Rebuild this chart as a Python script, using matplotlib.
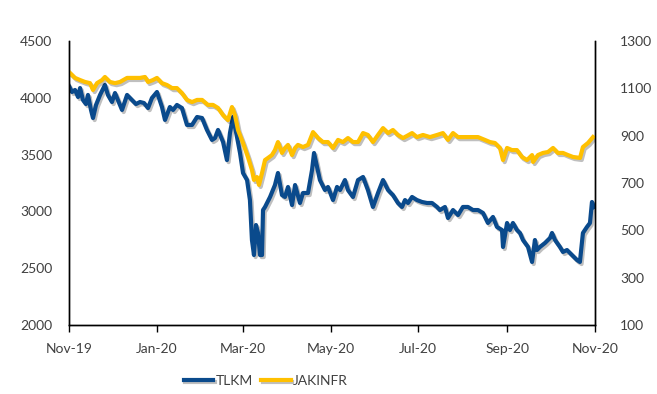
import matplotlib
matplotlib.use("Agg")
import matplotlib.pyplot as plt
import matplotlib.dates as mdates
import matplotlib.patheffects as pe
import numpy as np
import pandas as pd

start_date = "2019-11-01"
end_date = "2020-11-01"

# TLKM (left axis): days after start_date, values
tlkm_days = [0, 2.1, 4.2, 6.3, 7.7, 9.7, 11.8, 13.2, 15.3, 16.7, 18.8, 21.6, 25.0, 27.1, 29.9, 32.0,
             35.5, 36.9, 40.4, 43.8, 46.6, 49.4, 52.2, 55.0, 57.7, 61.2, 64.7, 66.8, 70.2, 72.4, 75.1,
             78.6, 82.1, 85.6, 89.1, 92.6, 96.0, 99.5, 101.6, 103.7, 107.2, 109.9, 112.0, 114.1, 116.9,
             119.0, 121.1, 123.9, 125.9, 127.3, 128.7, 130.1, 131.5, 132.9, 134.3, 135.0, 136.4, 139.9,
             143.3, 145.4, 148.2, 150.3, 152.4, 155.2, 157.3, 160.7, 162.8, 166.3, 169.1, 170.5, 172.6,
             174.6, 178.1, 180.2, 183.7, 186.5, 188.6, 192.0, 194.1, 197.6, 201.1, 204.6, 208.0, 211.5,
             215.0, 218.5, 222.0, 225.4, 228.9, 231.7, 233.8, 235.9, 238.7, 242.1, 245.6, 249.1, 252.6,
             256.1, 258.1, 261.6, 263.7, 267.2, 270.7, 274.1, 277.6, 281.1, 284.6, 288.1, 291.5, 295.0,
             297.8, 301.3, 302.0, 304.8, 306.8, 308.9, 311.7, 313.8, 315.9, 319.4, 322.2, 324.2, 325.6,
             327.7, 331.2, 334.7, 336.1, 338.2, 341.6, 343.7, 346.5, 350.0, 353.5, 355.5, 357.6, 360.4,
             362.5, 363.9, 365.3]
tlkm_values = [4104, 4051, 4069, 4007, 4086, 3981, 3945, 4025, 3893, 3822, 3937, 4025, 4113, 4025, 3963, 4042,
               3937, 3893, 4025, 3981, 3945, 3963, 3954, 3910, 3998, 4051, 3919, 3805, 3919, 3893, 3937,
               3910, 3761, 3761, 3831, 3822, 3717, 3629, 3646, 3717, 3611, 3452, 3690, 3831, 3655,
               3514, 3338, 3276, 3100, 2748, 2616, 2880, 2810, 2616, 2616, 3012, 3039, 3127,
               3232, 3338, 3144, 3127, 3215, 3056, 3232, 3074, 3162, 3162, 3364, 3514, 3391,
               3276, 3188, 3215, 3100, 3215, 3188, 3276, 3188, 3127, 3276, 3303, 3188, 3039,
               3162, 3276, 3188, 3144, 3074, 3039, 3100, 3074, 3127, 3100, 3083, 3074, 3074,
               3039, 3012, 3039, 2942, 3012, 2968, 3039, 3039, 3012, 3012, 2986, 2898, 2951,
               2863, 2836, 2687, 2898, 2836, 2898, 2836, 2810, 2748, 2687, 2555, 2748, 2660,
               2687, 2722, 2766, 2810, 2748, 2687, 2643, 2660, 2616, 2572, 2555, 2810, 2863,
               2898, 3083, 3039]

# JAKINFR (right axis)
jak_days = [0, 4.2, 7.7, 11.1, 14.6, 16.7, 19.5, 23.0, 25.0, 28.5, 32.0, 35.5, 40.4, 44.5, 49.4, 52.9,
            55.0, 58.4, 61.2, 64.7, 68.2, 71.7, 75.1, 78.6, 82.1, 85.6, 89.1, 92.6, 96.7, 100.2, 103.7,
            107.2, 110.6, 113.4, 115.5, 117.6, 121.1, 124.5, 127.3, 128.7, 130.8, 132.2, 134.3, 136.4,
            138.5, 141.2, 143.3, 145.4, 148.2, 150.3, 152.4, 155.2, 157.3, 159.3, 162.8, 166.3, 169.8,
            173.3, 176.7, 180.2, 183.7, 187.2, 190.6, 194.1, 197.6, 201.1, 204.6, 208.0, 211.5, 215.0,
            218.5, 222.0, 225.4, 228.9, 232.4, 235.2, 238.7, 242.1, 246.3, 251.2, 256.1, 260.2, 263.7,
            267.2, 270.7, 275.5, 280.4, 284.6, 289.4, 292.9, 296.4, 299.9, 302.0, 304.8, 308.2, 311.7,
            315.2, 318.7, 322.2, 322.9, 326.3, 329.8, 333.3, 336.8, 340.2, 343.7, 347.2, 350.7, 355.6,
            357.6, 361.1, 364.6]
jak_values = [1169, 1144, 1135, 1127, 1122, 1093, 1122, 1135, 1148, 1127, 1122, 1127, 1144, 1144, 1144, 1148,
              1127, 1135, 1144, 1122, 1114, 1101, 1101, 1080, 1051, 1042, 1051, 1051, 1030, 1030, 1017,
              987, 966, 1021, 987, 924, 869, 810, 755, 713, 725, 692, 742, 797,
              806, 818, 839, 873, 827, 848, 861, 818, 848, 861, 852, 861, 915,
              890, 873, 873, 848, 882, 873, 890, 873, 873, 911, 903, 873, 903,
              932, 911, 924, 903, 890, 899, 911, 894, 903, 894, 903, 911, 882,
              911, 894, 894, 894, 894, 882, 873, 869, 848, 797, 848, 839, 839,
              810, 797, 818, 789, 818, 827, 831, 848, 827, 827, 818, 810, 806,
              852, 869, 894]

left_ticks = [2000, 2500, 3000, 3500, 4000, 4500]
right_ticks = [100, 300, 500, 700, 900, 1100, 1300]
series_names = ["TLKM", "JAKINFR"]

plt.rcParams['font.family'] = ['Lato', 'DejaVu Sans']
text_color = '#404040'

fig = plt.figure(figsize=(6.57, 3.94), dpi=100)
ax = fig.add_axes([69/657, 69/394, (595-69)/657, (325-41)/394])
ax2 = ax.twinx()

t0 = pd.Timestamp(start_date)
tlkm_dates = [t0 + pd.Timedelta(days=d) for d in tlkm_days]
jak_dates = [t0 + pd.Timedelta(days=d) for d in jak_days]

shadow = [pe.SimpleLineShadow(offset=(1.2, -1.5), alpha=0.25, shadow_color='black'), pe.Normal()]
l1, = ax.plot(tlkm_dates, tlkm_values, color='#0A4A8C', lw=3.0, label=series_names[0],
              solid_joinstyle='round', path_effects=shadow)
l2, = ax2.plot(jak_dates, jak_values, color='#FFC000', lw=3.0, label=series_names[1],
               solid_joinstyle='round', path_effects=shadow)

ax.set_xlim(pd.Timestamp(start_date), pd.Timestamp(end_date))
ax.set_ylim(left_ticks[0], left_ticks[-1])
ax2.set_ylim(right_ticks[0], right_ticks[-1])
ax.set_yticks(left_ticks)
ax2.set_yticks(right_ticks)

ax.xaxis.set_major_locator(mdates.MonthLocator(bymonth=[1, 3, 5, 7, 9, 11]))
ax.xaxis.set_major_formatter(mdates.DateFormatter('%b-%y'))

for a in (ax, ax2):
    a.spines['top'].set_visible(False)
    for s in ('left', 'right', 'bottom'):
        a.spines[s].set_color('black')
        a.spines[s].set_linewidth(1.0)
    a.tick_params(axis='y', length=0, labelsize=10, colors=text_color)
ax.tick_params(axis='y', pad=12)
ax2.tick_params(axis='y', pad=18)
ax.tick_params(axis='x', direction='out', length=5, width=1, labelsize=10, colors=text_color, pad=8)
ax.tick_params(axis='x', color='black')

fig.legend(handles=[l1, l2], loc='center', bbox_to_anchor=(266/657, 13/394), ncol=2,
           frameon=False, fontsize=10, handlelength=2.1, handletextpad=0.2, columnspacing=0.6,
           labelcolor=text_color)

fig.savefig('out.png', dpi=100)
